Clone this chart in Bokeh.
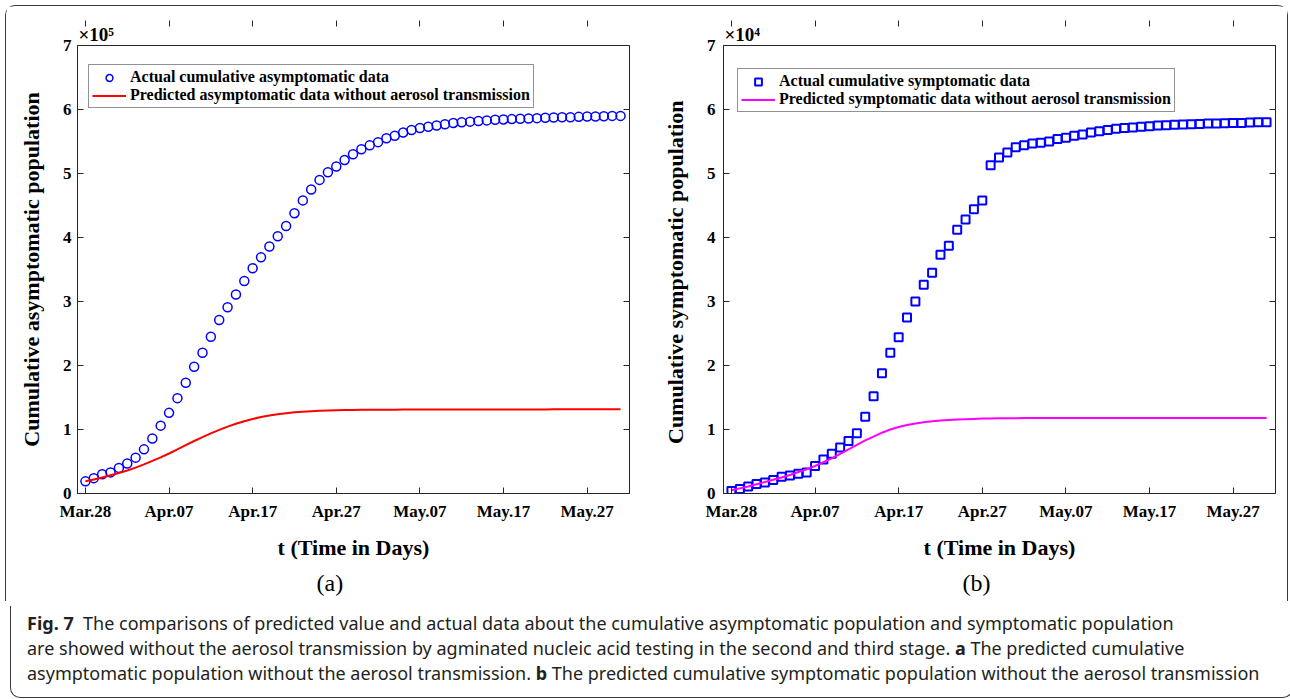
from bokeh.plotting import figure
from bokeh.models import (Range1d, FixedTicker, LinearAxis, CustomJSTickFormatter,
                          Legend, Div, Title)
from bokeh.layouts import row, column
from bokeh.embed import file_html
from bokeh.resources import INLINE

# ---- data -------------------------------------------------------------
# day index counted from Mar.28 (one observation per day up to May.31)
days = list(range(65))
x_tick_days = [0, 10, 20, 30, 40, 50, 60]
x_tick_labels = ["Mar.28", "Apr.07", "Apr.17", "Apr.27", "May.07", "May.17", "May.27"]

# cumulative asymptomatic population (persons)
asym_actual = [
    19000, 24000, 30000, 33000, 40000, 47000, 56000, 69000, 86000, 106000,
    126000, 149000, 173000, 198000, 220000, 245000, 271000, 291000, 311000, 332000,
    352000, 369000, 386000, 402000, 418000, 438000, 458000, 475000, 490000, 502000,
    511000, 521000, 530000, 538000, 544000, 549000, 555000, 559000, 564000, 568000,
    571000, 573000, 575000, 577000, 579000, 580000, 581000, 582000, 583000, 584000,
    584500, 585000, 585500, 586000, 586500, 587000, 587500, 588000, 588000, 588500,
    589000, 589000, 589500, 590000, 590000,
]
asym_predicted = [
    19000, 22000, 25000, 28500, 32000, 36000, 40500, 45500, 51000, 56500,
    62500, 69000, 75500, 82000, 88000, 94000, 99500, 104500, 109000, 113000,
    116500, 119500, 122000, 124000, 125500, 126800, 127800, 128600, 129200, 129700,
    130000, 130300, 130500, 130700, 130800, 130900, 131000, 131000, 131100, 131100,
    131100, 131200, 131200, 131200, 131200, 131300, 131300, 131300, 131300, 131300,
    131400, 131400, 131400, 131400, 131400, 131400, 131500, 131500, 131500, 131500,
    131500, 131500, 131500, 131500, 131500,
]

# cumulative symptomatic population (persons)
sym_actual = [
    400, 700, 1100, 1500, 1700, 2100, 2600, 2800, 3100, 3300,
    4300, 5300, 6200, 7200, 8200, 9400, 12000, 15200, 18800, 22000,
    24400, 27500, 30000, 32600, 34500, 37300, 38700, 41200, 42800, 44400,
    45800, 51300, 52500, 53300, 54100, 54400, 54700, 54800, 55000, 55400,
    55600, 55900, 56100, 56400, 56600, 56800, 57000, 57100, 57200, 57300,
    57400, 57500, 57550, 57600, 57650, 57700, 57750, 57800, 57800, 57850,
    57900, 57900, 57950, 58000, 58000,
]
sym_predicted = [
    500, 800, 1100, 1450, 1800, 2150, 2500, 2900, 3350, 3800,
    4300, 4900, 5500, 6200, 6900, 7600, 8300, 8900, 9500, 10000,
    10400, 10700, 10950, 11150, 11300, 11420, 11500, 11570, 11620, 11660,
    11700, 11720, 11740, 11760, 11770, 11780, 11790, 11790, 11790, 11800,
    11800, 11800, 11800, 11800, 11800, 11800, 11800, 11800, 11800, 11800,
    11800, 11800, 11800, 11800, 11800, 11800, 11800, 11800, 11800, 11800,
    11800, 11800, 11800, 11800, 11800,
]

# ---- styling ----------------------------------------------------------
AXIS_COLOR = "#262626"
FRAME_COLOR = "#3a3a3a"
SERIF = "Liberation Serif"
BLANK = CustomJSTickFormatter(code="return ''")


def style_axis(ax):
    ax.axis_line_color = AXIS_COLOR
    ax.major_tick_line_color = AXIS_COLOR
    ax.major_tick_in = 6
    ax.major_tick_out = 0
    ax.minor_tick_line_color = None
    ax.major_label_text_font = SERIF
    ax.major_label_text_font_style = "bold"
    ax.major_label_text_font_size = "17px"
    ax.major_label_text_color = "black"
    ax.axis_label_text_font = SERIF
    ax.axis_label_text_font_style = "bold"
    ax.axis_label_text_font_size = "22px"
    ax.axis_label_text_color = "black"


def panel(actual, predicted, scale, exponent, ylabel, actual_label, pred_label,
          marker, marker_size, marker_lw, pred_color, border_left, border_right,
          legend_xy, tag, tick_standoff):
    p = figure(frame_width=552, frame_height=448,
               min_border_left=border_left, min_border_right=border_right,
               min_border_top=39, min_border_bottom=107,
               x_range=Range1d(-0.95, 65.07), y_range=Range1d(0, 7 * scale),
               output_backend="svg", toolbar_location=None,
               background_fill_color="white", border_fill_color="white")
    p.grid.visible = False
    p.outline_line_color = AXIS_COLOR
    p.outline_line_width = 1
    p.outline_line_alpha = 1

    y_ticks = [i * scale for i in range(8)]
    y_tick_labels = {t: str(i) for i, t in enumerate(y_ticks)}

    p.xaxis.ticker = FixedTicker(ticks=x_tick_days)
    p.xaxis.major_label_overrides = dict(zip(x_tick_days, x_tick_labels))
    p.xaxis.axis_label = "t (Time in Days)"
    p.xaxis.major_label_standoff = 8
    p.xaxis.axis_label_standoff = 11
    p.yaxis.ticker = FixedTicker(ticks=y_ticks)
    p.yaxis.major_label_overrides = y_tick_labels
    p.yaxis.axis_label = ylabel
    p.yaxis.major_label_standoff = tick_standoff
    p.yaxis.axis_label_standoff = 16
    for ax in p.xaxis + p.yaxis:
        style_axis(ax)

    # mirrored inward ticks on the top and right edges of the box
    top = LinearAxis(ticker=FixedTicker(ticks=x_tick_days), formatter=BLANK)
    right = LinearAxis(ticker=FixedTicker(ticks=y_ticks), formatter=BLANK)
    for ax in (top, right):
        style_axis(ax)
        ax.axis_line_color = None
        ax.major_label_standoff = 0
    p.add_layout(right, "right")

    # exponent marker sitting on the top-left corner of the box
    exp_title = Title(text="\u00d710" + exponent, align="left", offset=1,
                      standoff=2, text_font=SERIF, text_font_style="bold",
                      text_font_size="19px", text_color="black")
    p.above = [exp_title, top]

    r_act = p.scatter(days, actual, marker=marker, size=marker_size,
                      fill_color=None, line_color="#0000ff", line_width=marker_lw)
    r_pred = p.line(days, predicted, line_color=pred_color, line_width=2)

    legend = Legend(items=[(actual_label, [r_act]), (pred_label, [r_pred])],
                    location=legend_xy, margin=0, padding=3, spacing=0,
                    label_height=17, glyph_height=17, glyph_width=34,
                    label_standoff=4, label_text_font=SERIF,
                    label_text_font_style="bold", label_text_font_size="16px",
                    label_text_color="black",
                    border_line_color=AXIS_COLOR, border_line_width=1,
                    background_fill_color="white", background_fill_alpha=1)
    p.add_layout(legend)

    # sub-figure tag under the axis title
    p.add_layout(Title(text=tag, align="left", offset=239, standoff=11,
                       text_font=SERIF, text_font_style="normal",
                       text_font_size="24px", text_color="black"), "below")
    return p


pa = panel(asym_actual, asym_predicted, 100000, "\u2075",
           "Cumulative asymptomatic population",
           "Actual cumulative asymptomatic data",
           "Predicted asymptomatic data without aerosol transmission",
           "circle", 9, 1.5, "#ff0000", 71, 17, (11, 385), "(a)", 6)
pb = panel(sym_actual, sym_predicted, 10000, "\u2074",
           "Cumulative symptomatic  population",
           "Actual cumulative symptomatic data",
           "Predicted symptomatic data without aerosol transmission",
           "square", 8, 2, "#ff00ff", 77, 12, (14, 381), "(b)", 8)

# rounded frame: upper half drawn on the chart row, lower half on the caption
charts = row(pa, pb, styles={
    "border-top": f"1px solid {FRAME_COLOR}", "border-left": f"1px solid {FRAME_COLOR}",
    "border-right": f"1px solid {FRAME_COLOR}", "border-radius": "10px 10px 0 0",
    "background": "white"})

caption = Div(
    text=("<b>Fig. 7</b>&nbsp; The comparisons of predicted value and actual data about the "
          "cumulative asymptomatic population and symptomatic population<br>"
          "are showed without the aerosol transmission by agminated nucleic acid testing "
          "in the second and third stage. <b>a</b> The predicted cumulative<br>"
          "asymptomatic population without the aerosol transmission. <b>b</b> The predicted "
          "cumulative symptomatic population without the aerosol transmission"),
    width=1283, height=92,
    styles={"font-family": "'Noto Sans', sans-serif", "font-size": "18px",
            "line-height": "25px", "color": "#231f20", "white-space": "nowrap",
            "padding-left": "16px", "padding-top": "5px", "box-sizing": "border-box",
            "border-left": f"1px solid {FRAME_COLOR}", "border-right": f"1px solid {FRAME_COLOR}",
            "border-bottom": f"1px solid {FRAME_COLOR}", "border-radius": "0 0 10px 10px",
            "background": "white"})

root = column(charts, caption, margin=(5, 0, 0, 5))

open("out.html", "w").write(file_html(root, INLINE))
